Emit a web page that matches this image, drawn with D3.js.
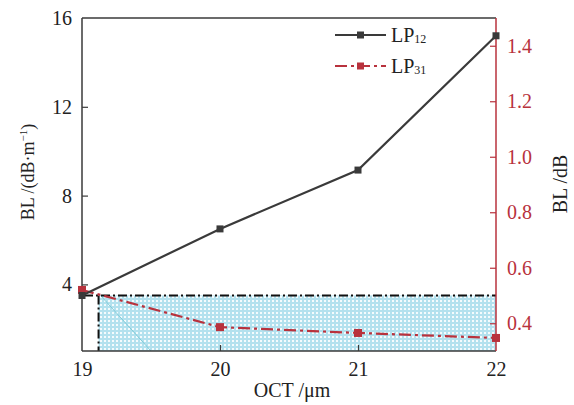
<!DOCTYPE html>
<html>
<head>
<meta charset="utf-8">
<script src="https://cdn.jsdelivr.net/npm/d3@7"></script>
<style>
  body { margin: 0; background: #fff; }
  svg { font-family: "Liberation Serif", "DejaVu Serif", serif; }
</style>
</head>
<body>
<svg width="574" height="405"></svg>
<script>
const octValues = [19, 20, 21, 22];
const lp12Values = [3.5, 6.5, 9.15, 15.2];
const lp31Values = [0.52, 0.386, 0.365, 0.347];
const leftTicks = [4, 8, 12, 16];
const rightTicks = [0.4, 0.6, 0.8, 1.0, 1.2, 1.4];
const regionX = [19.12, 22];
const regionY = [0.3, 0.5];

const svg = d3.select("svg");
const plotL = 82, plotR = 496, plotT = 18, plotB = 351;
const red = "#b8323d";
const dark = "#3a3a3a";

const x = d3.scaleLinear().domain([19, 22]).range([plotL, plotR]);
const yL = d3.scaleLinear().domain([1, 16]).range([plotB, plotT]);
const yR = d3.scaleLinear().domain([0.3, 1.5]).range([plotB, plotT]);

// checkered fill
const defs = svg.append("defs");
const pat = defs.append("pattern")
    .attr("id", "checks")
    .attr("width", 4).attr("height", 4)
    .attr("patternUnits", "userSpaceOnUse");
pat.append("rect").attr("width", 4).attr("height", 4).attr("fill", "#b3e1ee");
pat.append("rect").attr("width", 2).attr("height", 2).attr("fill", "#f4fbfd");

svg.append("rect")
    .attr("x", x(regionX[0]))
    .attr("y", yR(regionY[1]))
    .attr("width", x(regionX[1]) - x(regionX[0]))
    .attr("height", yR(regionY[0]) - yR(regionY[1]))
    .attr("fill", "url(#checks)");

// faint diagonal inside the region
svg.append("line")
    .attr("x1", x(regionX[0]) + 2).attr("y1", yR(regionY[1]))
    .attr("x2", x(19.5)).attr("y2", plotB)
    .attr("stroke", "#7fcbd8").attr("stroke-width", 1);

// dash-dot region border
svg.append("line")
    .attr("x1", plotL + 2).attr("y1", yR(regionY[1]))
    .attr("x2", plotR).attr("y2", yR(regionY[1]))
    .attr("stroke", "#111").attr("stroke-width", 2)
    .attr("stroke-dasharray", "9,3,2,3");
svg.append("line")
    .attr("x1", x(regionX[0])).attr("y1", yR(regionY[1]))
    .attr("x2", x(regionX[0])).attr("y2", plotB)
    .attr("stroke", "#111").attr("stroke-width", 2)
    .attr("stroke-dasharray", "9,3,2,3");

// frame
svg.append("line").attr("x1", plotL).attr("y1", plotT).attr("x2", plotR).attr("y2", plotT)
    .attr("stroke", dark).attr("stroke-width", 1.5);
svg.append("line").attr("x1", plotL).attr("y1", plotB).attr("x2", plotR).attr("y2", plotB)
    .attr("stroke", dark).attr("stroke-width", 1.5);
svg.append("line").attr("x1", plotL).attr("y1", plotT).attr("x2", plotL).attr("y2", plotB)
    .attr("stroke", dark).attr("stroke-width", 1.5);
svg.append("line").attr("x1", plotR).attr("y1", plotT).attr("x2", plotR).attr("y2", plotB)
    .attr("stroke", red).attr("stroke-width", 1.5);

// axes
const fontSize = 20;
const xAxis = svg.append("g")
    .attr("transform", `translate(0,${plotB})`)
    .call(d3.axisBottom(x).tickValues(octValues).tickFormat(d3.format("d"))
        .tickSizeInner(-6).tickSizeOuter(0).tickPadding(11));
const yAxisL = svg.append("g")
    .attr("transform", `translate(${plotL},0)`)
    .call(d3.axisLeft(yL).tickValues(leftTicks).tickFormat(d3.format("d"))
        .tickSizeInner(-6).tickSizeOuter(0).tickPadding(10));
const yAxisR = svg.append("g")
    .attr("transform", `translate(${plotR},0)`)
    .call(d3.axisRight(yR).tickValues(rightTicks).tickFormat(d3.format(".1f"))
        .tickSizeInner(-6).tickSizeOuter(0).tickPadding(11));

[xAxis, yAxisL, yAxisR].forEach(g => {
    g.select(".domain").remove();
    g.selectAll("text").attr("font-size", fontSize)
        .attr("font-family", "Liberation Serif, DejaVu Serif, serif");
});
xAxis.selectAll("line").attr("stroke", dark).attr("stroke-width", 1.2);
yAxisL.selectAll("line").attr("stroke", dark).attr("stroke-width", 1.2);
xAxis.selectAll("text").attr("fill", "#222");
yAxisL.selectAll("text").attr("fill", "#222");
yAxisR.selectAll("line").attr("stroke", red).attr("stroke-width", 1.2);
yAxisR.selectAll("text").attr("fill", red);
// hide edge ticks that sit on the frame
xAxis.selectAll(".tick line").filter(d => d === 19 || d === 22).remove();
yAxisL.selectAll(".tick line").filter(d => d === 16).remove();

// series
const pts12 = octValues.map((d, i) => [x(d), yL(lp12Values[i])]);
const pts31 = octValues.map((d, i) => [x(d), yR(lp31Values[i])]);
const line = d3.line();

svg.append("path").attr("d", line(pts31))
    .attr("fill", "none").attr("stroke", red).attr("stroke-width", 2.2)
    .attr("stroke-dasharray", "12,4,3,4");
svg.selectAll(".m31").data(pts31).enter().append("rect")
    .attr("x", d => d[0] - 4).attr("y", d => d[1] - 4)
    .attr("width", 8).attr("height", 8).attr("fill", red);

svg.append("path").attr("d", line(pts12))
    .attr("fill", "none").attr("stroke", dark).attr("stroke-width", 2.2);
svg.selectAll(".m12").data(pts12).enter().append("rect")
    .attr("x", d => d[0] - 3.5).attr("y", d => d[1] - 3.5)
    .attr("width", 7).attr("height", 7).attr("fill", dark);

// legend
const legend = [
    { name: "LP", sub: "12", color: dark, dash: null, y: 35 },
    { name: "LP", sub: "31", color: red, dash: "12,4,3,4", y: 66 }
];
legend.forEach(l => {
    svg.append("line").attr("x1", 335).attr("x2", 386).attr("y1", l.y).attr("y2", l.y)
        .attr("stroke", l.color).attr("stroke-width", 2.2)
        .attr("stroke-dasharray", l.dash);
    svg.append("rect").attr("x", 357).attr("y", l.y - 3.5).attr("width", 7).attr("height", 7)
        .attr("fill", l.color);
    const t = svg.append("text").attr("x", 391).attr("y", l.y + 7)
        .attr("font-size", 20).attr("fill", "#222");
    t.append("tspan").text(l.name);
    t.append("tspan").attr("font-size", 12).attr("dy", 1).text(l.sub);
});

// axis titles
svg.append("text").attr("x", 292).attr("y", 397).attr("text-anchor", "middle")
    .attr("font-size", 20).attr("fill", "#222").text("OCT /μm");

const tl = svg.append("text")
    .attr("transform", `translate(34,172) rotate(-90)`)
    .attr("text-anchor", "middle").attr("font-size", 18).attr("fill", "#222");
tl.append("tspan").text("BL /(dB·m");
tl.append("tspan").attr("font-size", 11).attr("dy", -7).text("−1");
tl.append("tspan").attr("dy", 7).text(")");

svg.append("text")
    .attr("transform", `translate(567,184) rotate(-90)`)
    .attr("text-anchor", "middle").attr("font-size", 20).attr("fill", "#222")
    .text("BL /dB");
</script>
</body>
</html>
